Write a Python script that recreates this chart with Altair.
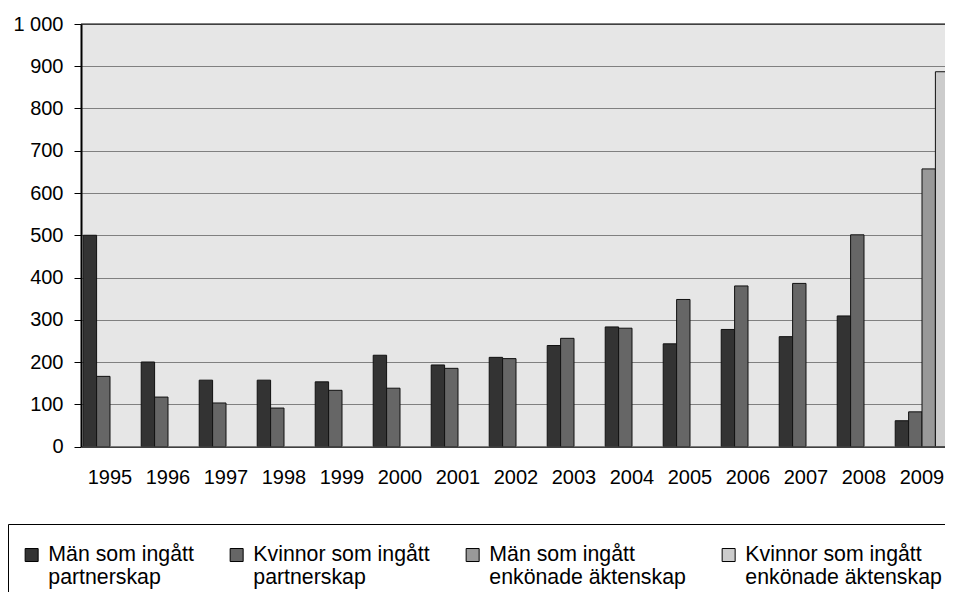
import altair as alt
import pandas as pd

years = ["1995", "1996", "1997", "1998", "1999", "2000", "2001", "2002",
         "2003", "2004", "2005", "2006", "2007", "2008", "2009"]
series = [
    "Män som ingått\npartnerskap",
    "Kvinnor som ingått\npartnerskap",
    "Män som ingått\nenkönade äktenskap",
    "Kvinnor som ingått\nenkönade äktenskap",
]
man_partnerskap = [500, 200, 157, 157, 153, 216, 193, 211, 239, 283, 243, 277, 260, 309, 61]
kvinnor_partnerskap = [166, 117, 103, 91, 133, 138, 185, 208, 256, 280, 348, 380, 386, 501, 82]
man_aktenskap = [None] * 14 + [657]
kvinnor_aktenskap = [None] * 14 + [887]
colors = ["#333333", "#666666", "#999999", "#cccccc"]
y_ticks = [0, 100, 200, 300, 400, 500, 600, 700, 800, 900, 1000]

rows = []
for name, vals in zip(series, [man_partnerskap, kvinnor_partnerskap, man_aktenskap, kvinnor_aktenskap]):
    for yr, v in zip(years, vals):
        if v is not None:
            rows.append({"year": yr, "series": name, "value": v})
df = pd.DataFrame(rows)

FONT = "Liberation Sans"
W = 864           # visible plot width (the right part is cut off, as in the reference)
BAND_RANGE = 870  # full extent of the 15 year bands
H = 422.5

bars = alt.Chart(df).mark_bar(stroke="#111111", strokeWidth=1, clip=True).encode(
    x=alt.X("year:N", sort=years,
            scale=alt.Scale(domain=years, range=[0, BAND_RANGE],
                            paddingInner=0.076, paddingOuter=0.038),
            axis=alt.Axis(title=None, labelAngle=0, ticks=False, labelPadding=21,
                          labelFontSize=20, labelFont=FONT, labelColor="black",
                          domainColor="black", domainWidth=1, grid=False)),
    xOffset=alt.XOffset("series:N", sort=series,
                        scale=alt.Scale(domain=series, paddingInner=0, paddingOuter=0)),
    y=alt.Y("value:Q", scale=alt.Scale(domain=[0, 1000], nice=False),
            axis=alt.Axis(title=None, values=y_ticks,
                          labelExpr="replace(format(datum.value, ','), ',', ' ')",
                          tickSize=7, tickColor="black", labelPadding=11,
                          labelFontSize=20, labelFont=FONT, labelColor="black",
                          domainColor="black", domainWidth=2,
                          grid=True, gridColor="#808080", gridWidth=1)),
    color=alt.Color("series:N", sort=series,
                    scale=alt.Scale(domain=series, range=colors),
                    legend=alt.Legend(title=None, orient="none", legendX=-73, legendY=500,
                                      direction="horizontal", columns=4, gridAlign="each",
                                      labelExpr="split(datum.label, '\\n')",
                                      labelFontSize=21.3, labelFont=FONT, labelColor="black",
                                      labelLimit=400, labelOffset=6, symbolOffset=-7,
                                      symbolType="square", symbolSize=169,
                                      symbolStrokeColor="black", symbolStrokeWidth=1,
                                      symbolOpacity=1, columnPadding=34, padding=20,
                                      strokeColor="black")),
)

top_border = alt.Chart(pd.DataFrame({"edge": [0]})).mark_rule(
    color="black", strokeWidth=1
).encode(x=alt.value(0), x2=alt.value(W), y=alt.value(0))

chart = alt.layer(bars, top_border).properties(
    width=W,
    height=H,
    padding={"left": 73, "top": 16, "right": 0, "bottom": 145.5},
    autosize=alt.AutoSizeParams(type="none"),
    background="white",
).configure_view(
    fill="#e6e6e6", stroke=None
)

chart.save("out.html", embed_options={"renderer": "svg", "actions": False})
